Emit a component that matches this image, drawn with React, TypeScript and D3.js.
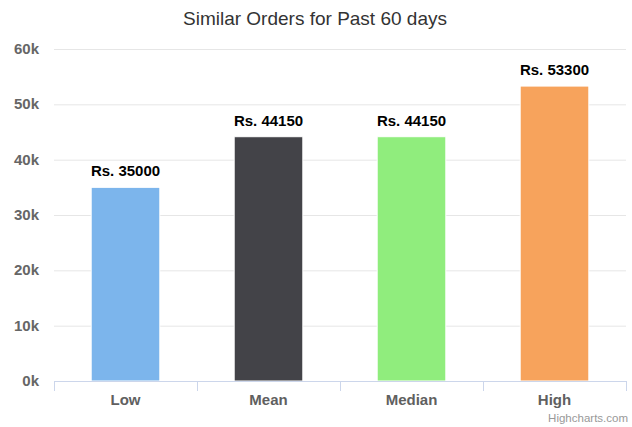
import { useEffect, useRef } from 'react';
import * as d3 from 'd3';

const categories = ['Low', 'Mean', 'Median', 'High'];
const values = [35000, 44150, 44150, 53300];
const colors = ['#7cb5ec', '#434348', '#90ed7d', '#f7a35c'];
const yTicks = [0, 10000, 20000, 30000, 40000, 50000, 60000];

const FONT = '"Liberation Sans", Arial, Helvetica, sans-serif';

export default function App() {
    const svgRef = useRef<SVGSVGElement>(null);

    useEffect(() => {
        const width = 632;
        const height = 427;
        const margin = { top: 49, right: 6, bottom: 46, left: 54 };
        const innerW = width - margin.left - margin.right;
        const innerH = height - margin.top - margin.bottom;

        const svg = d3.select(svgRef.current);
        svg.selectAll('*').remove();
        svg.attr('width', width).attr('height', height).style('font-family', FONT);

        svg.append('rect').attr('width', width).attr('height', height).attr('fill', '#ffffff');

        // Title
        svg.append('text')
            .attr('x', width / 2 - 1)
            .attr('y', 25)
            .attr('text-anchor', 'middle')
            .style('font-size', '19px')
            .style('fill', '#333333')
            .text('Similar Orders for Past 60 days');

        const g = svg.append('g').attr('transform', `translate(${margin.left},${margin.top})`);

        const x = d3.scaleBand().domain(categories).range([0, innerW]);
        const y = d3.scaleLinear().domain([0, 60000]).range([innerH, 0]);

        // Gridlines
        g.selectAll('.grid')
            .data(yTicks.filter((t) => t > 0))
            .enter()
            .append('line')
            .attr('x1', 0)
            .attr('x2', innerW)
            .attr('y1', (d) => y(d) + 0.5)
            .attr('y2', (d) => y(d) + 0.5)
            .attr('stroke', '#e6e6e6')
            .attr('stroke-width', 1);

        // Y labels
        g.selectAll('.ylab')
            .data(yTicks)
            .enter()
            .append('text')
            .attr('x', -15)
            .attr('y', (d) => y(d) + 5)
            .attr('text-anchor', 'end')
            .style('font-size', '15px')
            .style('font-weight', 'bold')
            .style('fill', '#666666')
            .text((d) => `${d / 1000}k`);

        // Bars (Highcharts default: groupPadding 0.2, pointPadding 0.1)
        const groupPad = 0.2;
        const pointPad = 0.1;
        const bw = x.bandwidth();
        const groupW = bw * (1 - 2 * groupPad);
        const barW = groupW * (1 - 2 * pointPad);
        const barOffset = bw * groupPad + groupW * pointPad;

        g.selectAll('.bar')
            .data(values)
            .enter()
            .append('rect')
            .attr('x', (d, i) => (x(categories[i]) as number) + barOffset)
            .attr('y', (d) => y(d))
            .attr('width', barW)
            .attr('height', (d) => innerH - y(d))
            .attr('fill', (d, i) => colors[i])
            .attr('stroke', '#ffffff')
            .attr('stroke-width', 1);

        // Data labels
        g.selectAll('.dlab')
            .data(values)
            .enter()
            .append('text')
            .attr('x', (d, i) => (x(categories[i]) as number) + bw / 2)
            .attr('y', (d) => y(d) - 11)
            .attr('text-anchor', 'middle')
            .style('font-size', '15px')
            .style('font-weight', 'bold')
            .style('fill', '#000000')
            .text((d) => `Rs. ${d}`);

        // X axis line + ticks
        g.append('line')
            .attr('x1', 0)
            .attr('x2', innerW)
            .attr('y1', innerH + 0.5)
            .attr('y2', innerH + 0.5)
            .attr('stroke', '#ccd6eb');

        const tickXs = [...categories.map((c) => x(c) as number), innerW];
        g.selectAll('.xtick')
            .data(tickXs)
            .enter()
            .append('line')
            .attr('x1', (d) => Math.round(d) + 0.5)
            .attr('x2', (d) => Math.round(d) + 0.5)
            .attr('y1', innerH)
            .attr('y2', innerH + 10)
            .attr('stroke', '#ccd6eb');

        // Category labels
        g.selectAll('.xlab')
            .data(categories)
            .enter()
            .append('text')
            .attr('x', (d) => (x(d) as number) + bw / 2)
            .attr('y', innerH + 24)
            .attr('text-anchor', 'middle')
            .style('font-size', '15px')
            .style('font-weight', 'bold')
            .style('fill', '#606060')
            .text((d) => d);

        // Credits
        svg.append('text')
            .attr('x', width - 4)
            .attr('y', height - 5)
            .attr('text-anchor', 'end')
            .style('font-size', '11.5px')
            .style('fill', '#999999')
            .text('Highcharts.com');
    }, []);

    return (
        <div style={{ position: 'absolute', left: 0, top: 0 }}>
            <svg ref={svgRef}></svg>
        </div>
    );
}
